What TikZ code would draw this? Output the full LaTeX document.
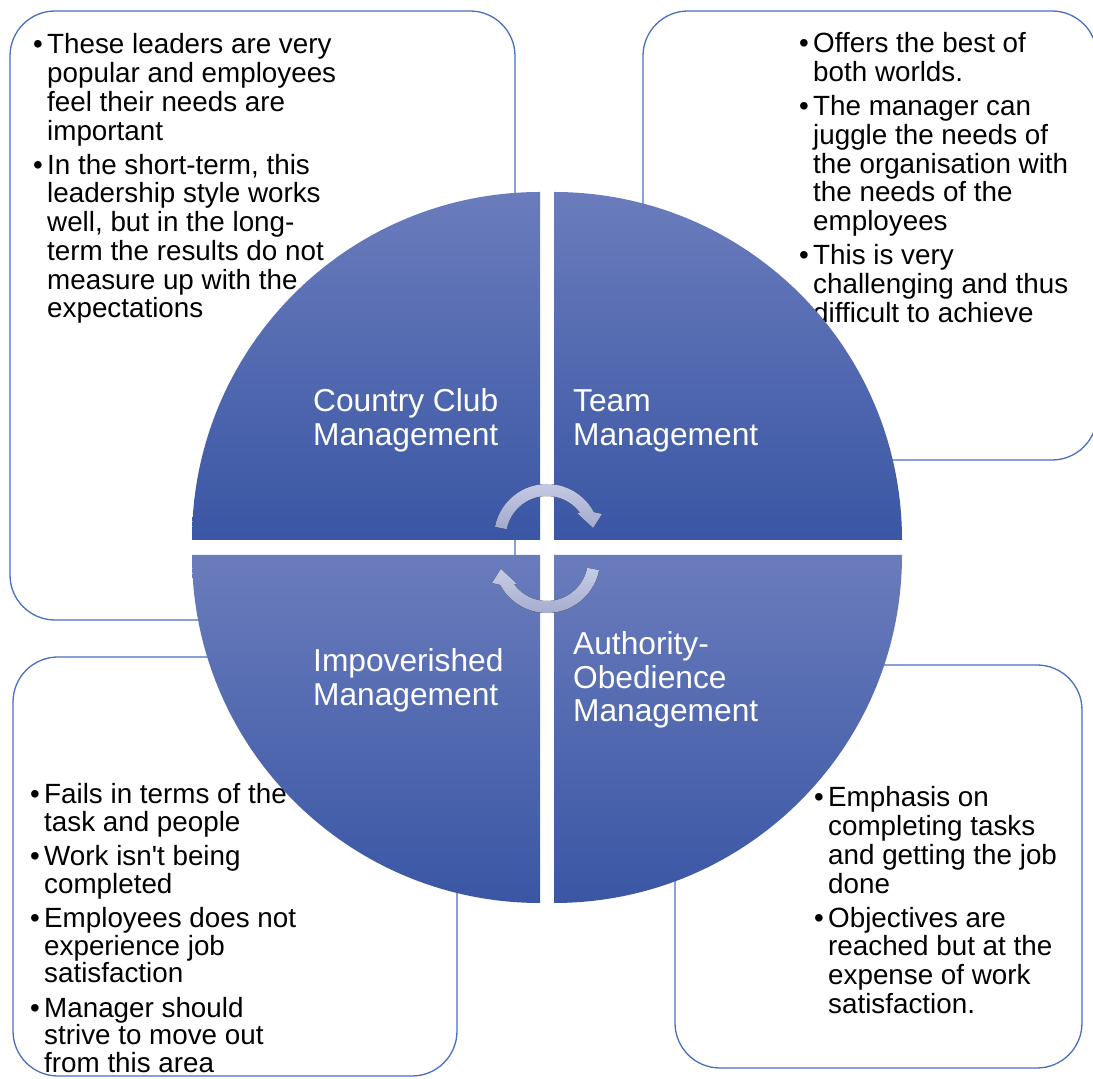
\documentclass[tikz,border=0pt]{standalone}
\usepackage{fontspec}
\setmainfont{Liberation Sans}
\definecolor{qtop}{RGB}{106,124,188}
\definecolor{qbot}{RGB}{58,86,164}
\definecolor{boxline}{RGB}{72,112,192}
\definecolor{arrtop}{RGB}{200,205,229}
\definecolor{arrbot}{RGB}{162,170,204}
\newlength\bind \setlength\bind{14pt}
\newcommand\bitem[1]{\par\noindent\hangindent=\bind\hangafter=1\hbox to\bind{\textbullet\hfil}#1\par}
\newcommand\blist[2][5.5pt]{\vtop{\hsize=460pt\parskip=#1\parindent=0pt\rightskip=0pt plus 1fil\relax#2}}
\tikzset{
  infobox/.style={draw=boxline, line width=1.3pt, fill=white, rounded corners=45pt},
  quad/.style={top color=qtop, bottom color=qbot, draw=none},
  qlabel/.style={anchor=base west, inner sep=0pt, text=white, font=\fontsize{31.7}{33.3}\selectfont},
  btext/.style={anchor=base west, inner sep=0pt, text=black, font=\fontsize{27.8}{28.7}\selectfont},
  btight/.style={btext, font=\fontsize{27.8}{27.5}\selectfont},
  cyc/.style={top color=arrtop, bottom color=arrbot, draw=none},
}
\begin{document}
\begin{tikzpicture}[x=1pt,y=1pt]
\useasboundingbox (0,0) rectangle (1093,1079);
% outer boxes
\path[infobox] (10,1068) rectangle (515,459);
\path[infobox] (643,1068) rectangle (1097,619);
\path[infobox] (13,422) rectangle (457,3);
\path[infobox] (675,414) rectangle (1082,11);
% box texts
\node[btext] (tltext) at (33,1025) {\blist{%
\bitem{These leaders are very\newline popular and employees\newline feel their needs are\newline important}%
\bitem{In the short-term, this\newline leadership style works\newline well, but in the long-\newline term the results do not\newline measure up with the\newline expectations}}};
\node[btext] (trtext) at (799,1026) {\blist{%
\bitem{Offers the best of\newline both worlds.}%
\bitem{The manager can\newline juggle the needs of\newline the organisation with\newline the needs of the\newline employees}%
\bitem{This is very\newline challenging and thus\newline difficult to achieve}}};
\node[btight] (bltext) at (30,275) {\blist[7pt]{%
\bitem{Fails in terms of the\newline task and people}%
\bitem{Work isn\textquotesingle t being\newline completed}%
\bitem{Employees does not\newline experience job\newline satisfaction}%
\bitem{Manager should\newline strive to move out\newline from this area}}};
\node[btext] (brtext) at (814,272) {\blist{%
\bitem{Emphasis on\newline completing tasks\newline and getting the job\newline done}%
\bitem{Objectives are\newline reached but at the\newline expense of work\newline satisfaction.}}};
% quadrants
\path[quad] (540,539) -- ++(-348,0) arc[start angle=180,end angle=90,radius=348] -- cycle;
\path[quad] (554,539) -- ++(0,348) arc[start angle=90,end angle=0,radius=348] -- cycle;
\path[quad] (540,524) -- ++(0,-348) arc[start angle=270,end angle=180,radius=348] -- cycle;
\path[quad] (554,524) -- ++(348,0) arc[start angle=0,end angle=-90,radius=348] -- cycle;
% labels
\node[qlabel] (lcc) at (313,667) {\vtop{\hbox{Country Club}\hbox{Management}}};
\node[qlabel] (ltm) at (573,667) {\vtop{\hbox{Team}\hbox{Management}}};
\node[qlabel] (lim) at (313,407) {\vtop{\hbox{Impoverished}\hbox{Management}}};
\node[qlabel] (lao) at (573,424) {\vtop{\hbox{Authority-}\hbox{Obedience}\hbox{Management}}};
% centre cycle arrows
\begin{scope}[shift={(547,542)}]
\fill[cyc] (169:53) arc[start angle=169,end angle=28,radius=53] -- (22.7:59.6) -- (11:47) -- (38.7:38.4) -- (36:41) arc[start angle=36,end angle=169,radius=41] -- cycle;
\end{scope}
\begin{scope}[shift={(547,519)}]
\fill[cyc] (349:53) arc[start angle=349,end angle=208,radius=53] -- (202.7:59.6) -- (191:47) -- (218.7:38.4) -- (216:41) arc[start angle=216,end angle=349,radius=41] -- cycle;
\end{scope}
\end{tikzpicture}
\end{document}
